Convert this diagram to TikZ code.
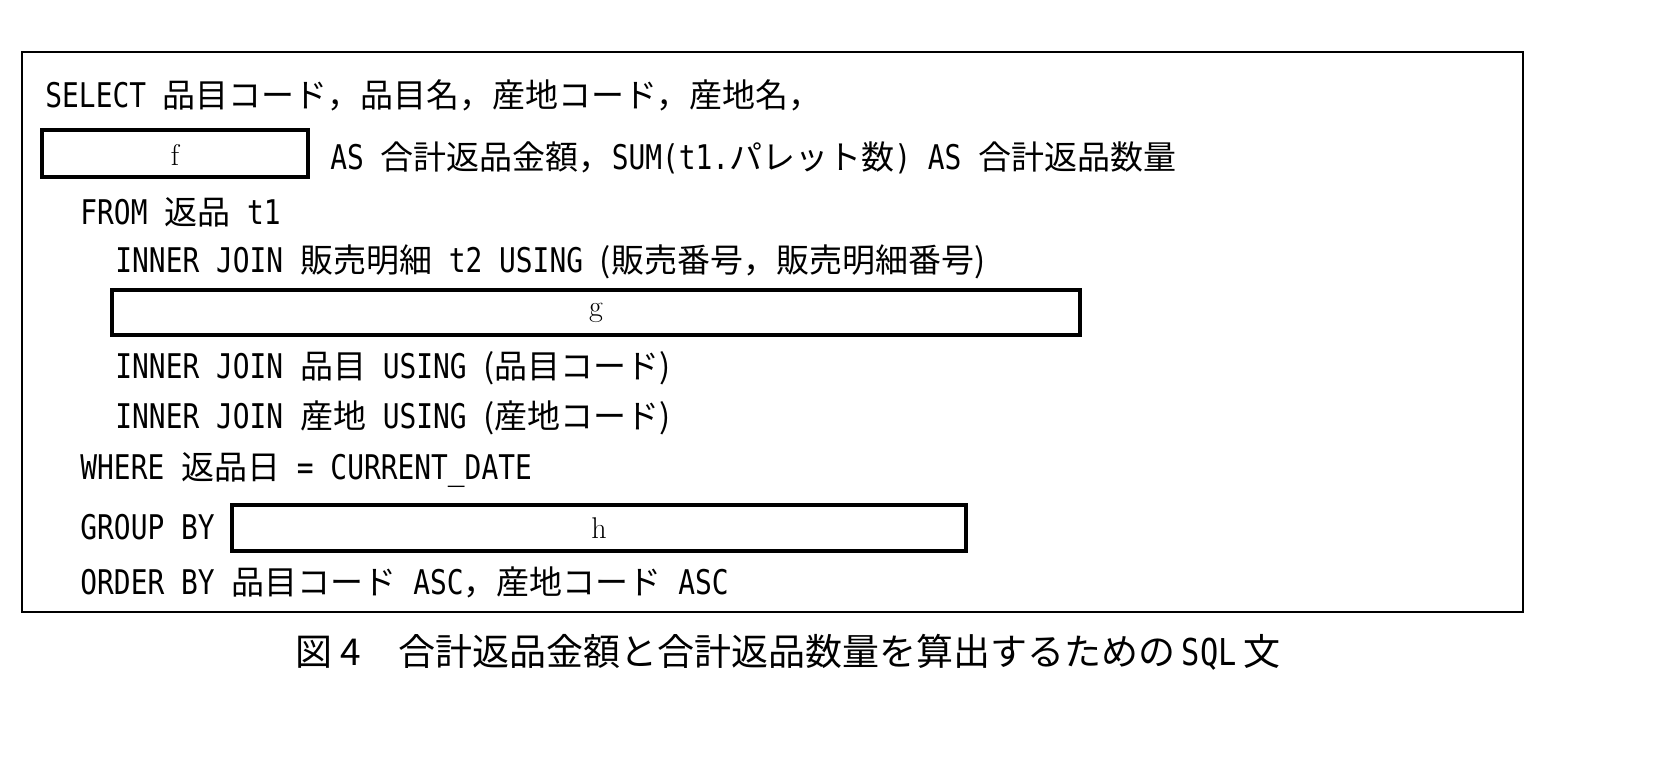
\documentclass[tikz,border=0pt]{standalone}
\usepackage{fontspec}
\newfontfamily\jpf{Noto Sans CJK JP}
\newfontfamily\monof{DejaVu Sans Mono}[FakeStretch=0.82]
\newcommand{\J}[1]{{\jpf\fontsize{16.5}{16.5}\selectfont #1}}
\begin{document}
\begin{tikzpicture}[x=0.5pt,y=-0.5pt,
  code/.style={anchor=west,inner sep=0,font=\monof\fontsize{17}{17}\selectfont},
  blank/.style={draw,line width=1.6pt,inner sep=0},
  lbl/.style={font=\fontsize{15}{15}\selectfont}]
\useasboundingbox (0,0) rectangle (1674,762);
\draw[line width=1.1pt] (22,52) rectangle (1523,612);
\node[code] (l1) at (45,95) {SELECT \J{品目コード，品目名，産地コード，産地名，}};
\draw[blank] (42,130) rectangle (308,177);
\node[lbl] (f) at (175,155) {f};
\node[code] (l2) at (330,158) {AS \J{合計返品金額，}SUM(t1.\J{パレット数}) AS \J{合計返品数量}};
\node[code] (l3) at (80,212) {FROM \J{返品} t1};
\node[code] (l4) at (115,262) {INNER JOIN \J{販売明細} t2 USING \J{(販売番号，販売明細番号)}};
\draw[blank] (112,290) rectangle (1080,335);
\node[lbl] (g) at (596,313) {g};
\node[code] (l5) at (115,368) {INNER JOIN \J{品目} USING \J{(品目コード)}};
\node[code] (l6) at (115,418) {INNER JOIN \J{産地} USING \J{(産地コード)}};
\node[code] (l7) at (80,470) {WHERE \J{返品日} = CURRENT\_DATE};
\node[code] (l8) at (80,527) {GROUP BY};
\draw[blank] (232,505) rectangle (966,551);
\node[lbl] (h) at (599,528) {h};
\node[code] (l9) at (80,582) {ORDER BY \J{品目コード} ASC\J{，}\J{産地コード} ASC};
\node[anchor=west,inner sep=0] (cap) at (295,652) {\J{\fontsize{18.5}{18.5}\selectfont 図 4\quad 合計返品金額と合計返品数量を算出するための} {\monof\fontsize{18.5}{18.5}\selectfont SQL} \J{\fontsize{18.5}{18.5}\selectfont 文}};
\end{tikzpicture}
\end{document}
